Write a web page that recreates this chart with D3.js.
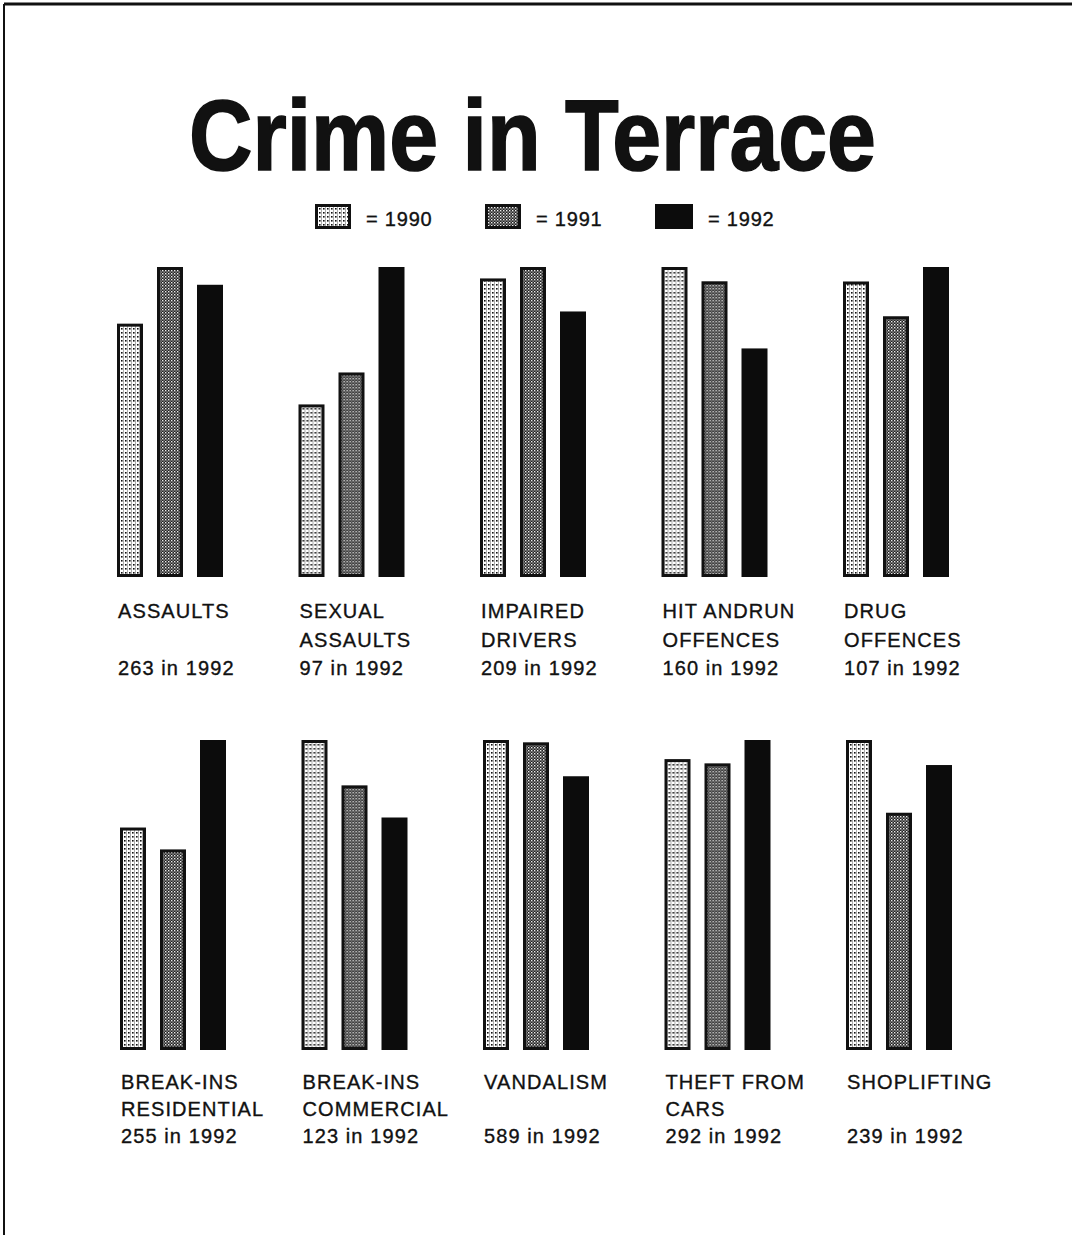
<!DOCTYPE html>
<html>
<head>
<meta charset="utf-8">
<script src="https://cdn.jsdelivr.net/npm/d3@7"></script>
<style>
  html, body { margin: 0; padding: 0; background: #fff; }
  svg { display: block; }
  text { font-family: "Liberation Sans", Arial, Helvetica, sans-serif; fill: #111; }
</style>
</head>
<body>
<svg id="chart" width="1072" height="1235"></svg>
<script>
// data (1992 counts are printed, earlier years from bar heights)
var years = ["1990", "1991", "1992"];
var categories = [
  "ASSAULTS", "SEXUAL ASSAULTS", "IMPAIRED DRIVERS", "HIT ANDRUN OFFENCES", "DRUG OFFENCES",
  "BREAK-INS RESIDENTIAL", "BREAK-INS COMMERCIAL", "VANDALISM", "THEFT FROM CARS", "SHOPLIFTING"
];
var labelLines = [
  ["ASSAULTS"], ["SEXUAL", "ASSAULTS"], ["IMPAIRED", "DRIVERS"], ["HIT ANDRUN", "OFFENCES"], ["DRUG", "OFFENCES"],
  ["BREAK-INS", "RESIDENTIAL"], ["BREAK-INS", "COMMERCIAL"], ["VANDALISM"], ["THEFT FROM", "CARS"], ["SHOPLIFTING"]
];
var values1990 = [228, 54, 235, 217, 102, 183, 164, 667, 274, 260];
var values1991 = [279, 64, 244, 207, 90, 165, 140, 662, 270, 199];
var values1992 = [263, 97, 209, 160, 107, 255, 123, 589, 292, 239];
var rowOf = [0, 0, 0, 0, 0, 1, 1, 1, 1, 1];

var svg = d3.select("#chart");
var defs = svg.append("defs");

// 1990 : light dotted screen
var p90 = defs.append("pattern").attr("id", "p1990")
  .attr("patternUnits", "userSpaceOnUse").attr("width", 4).attr("height", 4);
p90.append("rect").attr("width", 4).attr("height", 4).attr("fill", "#fff");
p90.append("rect").attr("x", 0).attr("y", 0).attr("width", 1.6).attr("height", 1.6).attr("fill", "#111");
p90.append("rect").attr("x", 2).attr("y", 0).attr("width", 0.8).attr("height", 4).attr("fill", "#999");

// 1991 : darker checker screen
var p91 = defs.append("pattern").attr("id", "p1991")
  .attr("patternUnits", "userSpaceOnUse").attr("width", 3).attr("height", 3);
p91.append("rect").attr("width", 3).attr("height", 3).attr("fill", "#222");
p91.append("rect").attr("x", 0).attr("y", 0).attr("width", 1.4).attr("height", 1.4).attr("fill", "#eee");
p91.append("rect").attr("x", 1.5).attr("y", 1.5).attr("width", 1.2).attr("height", 1.2).attr("fill", "#ccc");

var fills = { "1990": "url(#p1990)", "1991": "url(#p1991)", "1992": "#0c0c0c" };

// page frame
svg.append("line").attr("x1", 4).attr("x2", 1072).attr("y1", 4).attr("y2", 4)
  .attr("stroke", "#111").attr("stroke-width", 3);
svg.append("line").attr("x1", 4).attr("x2", 4).attr("y1", 4).attr("y2", 1235)
  .attr("stroke", "#111").attr("stroke-width", 2);

// title
svg.append("text")
  .attr("x", 189).attr("y", 170)
  .attr("textLength", 687).attr("lengthAdjust", "spacingAndGlyphs")
  .style("font-size", "100px").style("font-weight", "bold")
  .style("stroke", "#111").style("stroke-width", "1.6px")
  .text("Crime in Terrace");

// legend
var legendX = d3.scaleOrdinal().domain(years).range([315, 485, 655]);
var legendW = { "1990": 36, "1991": 36, "1992": 38 };
var legend = svg.append("g").selectAll("g")
  .data(years)
  .enter().append("g")
  .attr("transform", function (d) { return "translate(" + legendX(d) + ",204)"; });
legend.append("rect")
  .attr("x", function (d) { return d === "1992" ? 0 : 1.5; })
  .attr("y", function (d) { return d === "1992" ? 0 : 1.5; })
  .attr("width", function (d) { return d === "1992" ? legendW[d] : legendW[d] - 3; })
  .attr("height", function (d) { return d === "1992" ? 25 : 22; })
  .attr("fill", function (d) { return fills[d]; })
  .attr("stroke", "#111")
  .attr("stroke-width", function (d) { return d === "1992" ? 0 : 3; });
legend.append("text")
  .attr("x", function (d) { return legendW[d] + 15; })
  .attr("y", 22)
  .style("font-size", "20px")
  .style("letter-spacing", "0.8px")
  .style("stroke", "#111").style("stroke-width", "0.35px")
  .text(function (d) { return "= " + d; });

// layout per row
var rows = [
  { baseline: 577, x0: 117, labelY: 618, lineGap: 28.5 },
  { baseline: 1050, x0: 120, labelY: 1089, lineGap: 27 }
];
var barMax = 310;
var groupStep = 181.5;

var inner = d3.scaleBand().domain(years).range([0, 106]).paddingInner(0.35);

var data = categories.map(function (c, i) {
  return {
    name: c,
    lines: labelLines[i],
    row: rowOf[i],
    col: rowOf[i] === 0 ? i : i - 5,
    values: [values1990[i], values1991[i], values1992[i]],
    count: values1992[i]
  };
});

var groups = svg.append("g").selectAll("g.group")
  .data(data)
  .enter().append("g")
  .attr("class", "group")
  .attr("transform", function (d) {
    var r = rows[d.row];
    var gx = d3.scaleLinear().domain([0, 1]).range([r.x0, r.x0 + groupStep]);
    return "translate(" + gx(d.col) + ",0)";
  });

groups.each(function (d) {
  var r = rows[d.row];
  // each group is drawn on its own scale, tallest bar = full height
  var y = d3.scaleLinear().domain([0, d3.max(d.values)]).range([r.baseline, r.baseline - barMax]);
  var g = d3.select(this);

  g.selectAll("rect.bar")
    .data(d.values.map(function (v, k) { return { year: years[k], value: v }; }))
    .enter().append("rect")
    .attr("class", "bar")
    .attr("x", function (b) { return inner(b.year) + (b.year === "1992" ? 0 : 1.5); })
    .attr("y", function (b) { return y(b.value) + (b.year === "1992" ? 0 : 1.5); })
    .attr("width", function (b) { return b.year === "1992" ? inner.bandwidth() : inner.bandwidth() - 3; })
    .attr("height", function (b) { return y(0) - y(b.value) - (b.year === "1992" ? 0 : 3); })
    .attr("fill", function (b) { return fills[b.year]; })
    .attr("stroke", "#111")
    .attr("stroke-width", function (b) { return b.year === "1992" ? 0 : 3; });

  var lab = g.append("text")
    .attr("x", 1)
    .attr("y", r.labelY)
    .style("font-size", "20px")
    .style("letter-spacing", "1.1px")
    .style("stroke", "#111").style("stroke-width", "0.35px");
  d.lines.forEach(function (line, k) {
    lab.append("tspan").attr("x", 1).attr("y", r.labelY + k * r.lineGap).text(line);
  });
  lab.append("tspan").attr("x", 1).attr("y", r.labelY + 2 * r.lineGap).text(d.count + " in 1992");
});
</script>
</body>
</html>
